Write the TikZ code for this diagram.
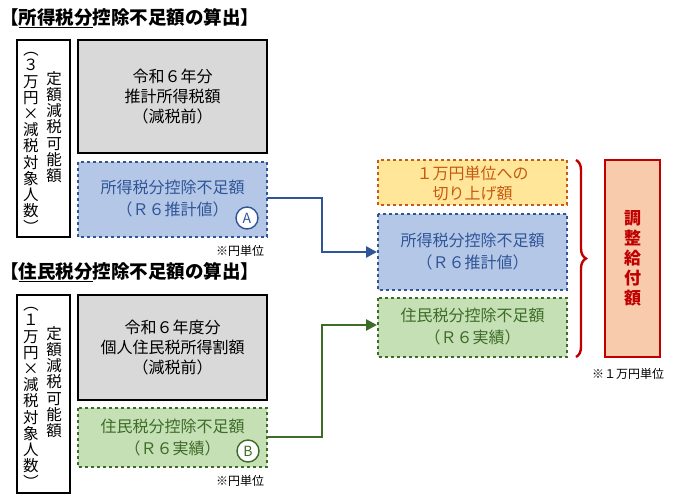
\documentclass[tikz,border=0pt]{standalone}
\usepackage{fontspec}
\setmainfont{Noto Sans CJK JP}
\usetikzlibrary{arrows.meta,decorations.pathreplacing}
\definecolor{bl}{HTML}{2F5597}\definecolor{blf}{HTML}{B4C7E7}
\definecolor{gr}{HTML}{3D6B28}\definecolor{grf}{HTML}{C5E0B4}
\definecolor{orf}{HTML}{FFE699}\definecolor{orl}{HTML}{C55A11}
\definecolor{rd}{HTML}{C00000}\definecolor{rdf}{HTML}{F8CBAD}
\definecolor{gy}{HTML}{D9D9D9}
\newcommand{\rp}[1]{\rotatebox[origin=c]{-90}{#1}}
\begin{document}
\begin{tikzpicture}[x=1pt,y=-1pt,
 box/.style={align=center,font=\fontsize{16}{20}\selectfont,inner sep=0pt},
 vt/.style={align=center,font=\fontsize{15.5}{16.2}\selectfont,inner sep=0pt},
 circ/.style={circle,draw=bl,fill=white,line width=1.4pt,minimum size=22pt,inner sep=0pt,font=\fontsize{14}{14}\selectfont,text=bl},
 note/.style={font=\fontsize{12}{13}\selectfont},
 arr/.style={line width=2.6pt,-{Triangle[length=11pt,width=11pt]}}]
\useasboundingbox (0,0) rectangle (680,498);
\node[anchor=west,font=\bfseries\fontsize{18.5}{20}\selectfont,inner sep=0pt] (t1) at (0,18) {【\underline{所得税分}控除不足額の算出】};
\draw[line width=1.8pt] (17,40) rectangle (70,237);
\node[vt] (l1a) at (54,127) {定\\額\\減\\税\\可\\能\\額};
\node[vt] (l1b) at (31,138) {\rp{（}\\３\\万\\円\\×\\減\\税\\対\\象\\人\\数\\\rp{）}};
\draw[line width=1.8pt,fill=gy] (78,40) rectangle (267,153);
\node[box] (g1) at (172.5,97) {令和６年分\\推計所得税額\\（減税前）};
\draw[line width=1.4pt,dashed,draw=bl,fill=blf] (78,162) rectangle (267,237);
\node[box,text=bl,font=\fontsize{16}{22}\selectfont] (b1) at (172.5,199) {所得税分控除不足額\\（Ｒ６推計値）};
\node[circ] (A) at (247,218) {A};
\node[note] (n1) at (240,251) {※円単位};
\node[anchor=west,font=\bfseries\fontsize{18.5}{20}\selectfont,inner sep=0pt] (t2) at (0,272) {【\underline{住民税分}控除不足額の算出】};
\draw[line width=1.8pt] (17,295) rectangle (70,493);
\node[vt] (l2a) at (54,382) {定\\額\\減\\税\\可\\能\\額};
\node[vt] (l2b) at (31,393) {\rp{（}\\１\\万\\円\\×\\減\\税\\対\\象\\人\\数\\\rp{）}};
\draw[line width=1.8pt,fill=gy] (78,295) rectangle (267,400);
\node[box] (g2) at (172.5,348) {令和６年度分\\個人住民税所得割額\\（減税前）};
\draw[line width=1.4pt,dashed,draw=gr,fill=grf] (78,408) rectangle (267,467);
\node[box,text=gr,font=\fontsize{16}{22}\selectfont] (gb) at (172.5,438) {住民税分控除不足額\\（Ｒ６実績）};
\node[circ,draw=gr,text=gr] (B) at (248,451) {B};
\node[note] (n2) at (240,481) {※円単位};
\draw[line width=1.4pt,dashed,draw=orl,fill=orf] (378,160) rectangle (567,205);
\node[box,text=orl,font=\fontsize{16}{20}\selectfont] (o) at (472.5,183) {１万円単位への\\切り上げ額};
\draw[line width=1.4pt,dashed,draw=bl,fill=blf] (378,214) rectangle (567,290);
\node[box,text=bl,font=\fontsize{16}{22}\selectfont] (rb) at (472.5,252) {所得税分控除不足額\\（Ｒ６推計値）};
\draw[line width=1.4pt,dashed,draw=gr,fill=grf] (378,298) rectangle (567,357);
\node[box,text=gr,font=\fontsize{16}{22}\selectfont] (rg) at (472.5,327) {住民税分控除不足額\\（Ｒ６実績）};
\draw[rd,line width=2.4pt,decorate,decoration={brace,amplitude=10pt}] (576,160) -- (576,357);
\draw[line width=2.8pt,draw=rd,fill=rdf] (605,160) rectangle (660,357);
\node[vt,text=rd,font=\bfseries\fontsize{17}{20}\selectfont] (adj) at (632.5,258) {調\\整\\給\\付\\額};
\node[note] (n3) at (628,374) {※１万円単位};
\coordinate (a1) at (267,198); \coordinate (a2) at (377,252);
\coordinate (b1s) at (267,437); \coordinate (b2) at (377,325);
\draw[arr,bl] (a1) -- (322,198) -- (322,252) -- (a2);
\draw[arr,gr] (b1s) -- (322,437) -- (322,325) -- (b2);
\end{tikzpicture}
\end{document}
